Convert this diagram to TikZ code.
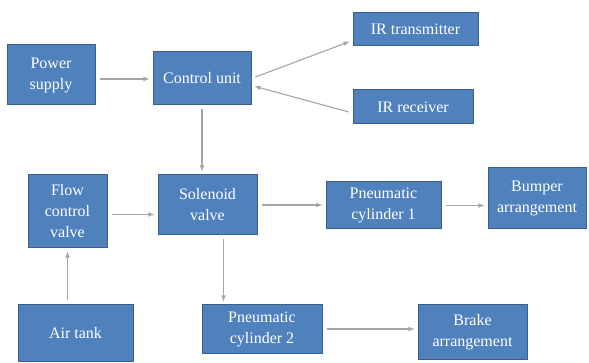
\documentclass[tikz,border=0pt]{standalone}
\usepackage{fontspec}
\setmainfont{Liberation Serif}
\usepackage{tikz}
\usetikzlibrary{calc}
\usetikzlibrary{arrows}
\usetikzlibrary{arrows.meta}
\usetikzlibrary{positioning}
\tikzset{>=latex}
\definecolor{blkfill}{HTML}{4F81BD}
\definecolor{blkedge}{HTML}{3A5F8C}
\definecolor{linkgray}{HTML}{A6A6A6}
\tikzstyle{blk} = [rectangle, draw=blkedge, fill=blkfill, text=white, align=center, inner sep=2pt, line width=1pt, font=\fontsize{16}{21}\selectfont]
\tikzstyle{link} = [-latex, draw=linkgray, line width=1.1pt, shorten >=3pt, shorten <=4pt]

\begin{document}
\begin{tikzpicture}[x=1pt, y=-1pt]
\useasboundingbox (0, 0) rectangle (589, 363);
\node [blk, minimum width=88, minimum height=60] (PS) at (51, 75) {Power\\supply};
\node [blk, minimum width=98, minimum height=53] (CU) at (202, 78.5) {Control unit};
\node [blk, minimum width=125, minimum height=33] (IRT) at (415.5, 29.5) {IR transmitter};
\node [blk, minimum width=120, minimum height=34] (IRR) at (413, 107) {IR receiver};
\node [blk, minimum width=79, minimum height=73] (FCV) at (67.5, 211.5) {Flow\\control\\valve};
\node [blk, minimum width=99, minimum height=60] (SV) at (207.5, 205) {Solenoid\\valve};
\node [blk, minimum width=115, minimum height=56] (AT) at (75.5, 333) {Air tank};
\node [blk, minimum width=115, minimum height=47] (PC1) at (383.5, 205.5) {Pneumatic\\cylinder 1};
\node [blk, minimum width=120, minimum height=48] (PC2) at (262, 329) {Pneumatic\\cylinder 2};
\node [blk, minimum width=98, minimum height=61] (BA) at (537, 198.5) {Bumper\\arrangement};
\node [blk, minimum width=109, minimum height=54] (BRA) at (472.5, 332) {Brake\\arrangement};
% control side
\draw [link] ([yshift=-4]PS.east) -- ([yshift=-4]PS.east -| CU.west);
\draw [link] (CU.east) -- ([yshift=-11]IRT.west);
\draw [link] ([yshift=-6]IRR.west) -- ([yshift=-7]CU.east);
\draw [link] (CU.south) -- (CU.south |- SV.north);
% air side
\draw [link] (FCV.south |- AT.north) -- (FCV.south);
\draw [link] ([yshift=-3]FCV.east) -- ([yshift=-3]FCV.east -| SV.west);
\draw [link] (SV.east) -- (SV.east -| PC1.west);
\draw [link] ([xshift=16]SV.south) -- ([xshift=16]SV.south |- PC2.north);
\draw [link] (PC1.east) -- (PC1.east -| BA.west);
\draw [link] (PC2.east) -- (PC2.east -| BRA.west);
\end{tikzpicture}
\end{document}
